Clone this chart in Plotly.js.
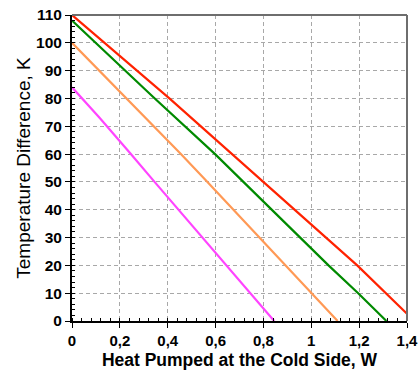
<!DOCTYPE html>
<html>
<head>
<meta charset="utf-8">
<script src="https://cdn.plot.ly/plotly-3.0.1.min.js"></script>
<style>html,body{margin:0;padding:0;background:#fff;}#chart{width:418px;height:371px;}</style>
</head>
<body>
<div id="chart"></div>
<script>
// Heat pumped (W) vs temperature difference (K)
const redX = [0, 0.407, 0.669, 1.192, 1.404, 1.43];
const redY = [110, 80, 60, 20, 2.3, 0];
const greenX = [0, 0.346, 0.598, 1.072, 1.196, 1.314];
const greenY = [108, 80, 60, 20, 10, 0];
const orangeX = [0, 0.229, 0.455, 0.566, 1.11];
const orangeY = [100, 80, 60, 50, 0];
const magentaX = [0, 0.116, 0.246, 0.345, 0.845];
const magentaY = [84, 73, 60, 50, 0];
const xTicks = [0, 0.2, 0.4, 0.6, 0.8, 1, 1.2, 1.4];
const xTickText = ['0', '0,2', '0,4', '0,6', '0,8', '1', '1,2', '1,4'];

const xTitle = 'Heat Pumped at the Cold Side, W';
const yTitle = 'Temperature Difference, K';

const font = 'Liberation Sans, Arial, sans-serif';
function tr(x, y, c) {
  return {x: x, y: y, type: 'scatter', mode: 'lines', line: {color: c, width: 2.2}, hoverinfo: 'skip'};
}
const data = [
  tr(magentaX, magentaY, '#ff44ff'),
  tr(orangeX, orangeY, '#ff9955'),
  tr(greenX, greenY, '#008a00'),
  tr(redX, redY, '#ff2200')
];
const layout = {
  width: 418, height: 371,
  margin: {l: 72, r: 11, t: 15, b: 50},
  paper_bgcolor: '#fff', plot_bgcolor: '#fff',
  showlegend: false,
  separators: ',.',
  font: {family: font, color: '#000'},
  xaxis: {
    range: [0, 1.4], tickmode: 'array', tickvals: xTicks, ticktext: xTickText,
    ticklabeloverflow: 'allow',
    showgrid: true, gridcolor: '#a8a8a8', griddash: '4px,3px', gridwidth: 1,
    zeroline: false,
    showline: true, linecolor: '#000', linewidth: 2,
    ticks: 'outside', ticklen: 5, tickcolor: '#000', tickwidth: 1,
    tickfont: {family: font, size: 15, color: '#000', weight: 'bold'},
    minor: {tickmode: 'linear', tick0: 0, dtick: 0.04, ticks: 'inside', ticklen: 3, tickcolor: '#000', showgrid: false},
    title: {text: xTitle, font: {family: font, size: 17.5, color: '#000', weight: 'bold'}, standoff: 6},
    automargin: false
  },
  yaxis: {
    range: [0, 110], dtick: 10, tick0: 0,
    ticklabeloverflow: 'allow',
    showgrid: true, gridcolor: '#a8a8a8', griddash: '4px,3px', gridwidth: 1,
    zeroline: false,
    showline: true, linecolor: '#000', linewidth: 2,
    ticks: 'outside', ticklen: 5, tickcolor: '#000', tickwidth: 1,
    tickfont: {family: font, size: 15.5, color: '#000', weight: 'bold'},
    minor: {dtick: 2, ticks: 'inside', ticklen: 3, tickcolor: '#000', showgrid: false},
    title: {text: yTitle, font: {family: font, size: 19, color: '#000'}, standoff: 0},
    automargin: false
  },
  shapes: [
    {type: 'line', xref: 'paper', yref: 'paper', x0: 0, x1: 1, y0: 1, y1: 1, line: {color: '#6e6e6e', width: 2}, layer: 'above'},
    {type: 'line', xref: 'paper', yref: 'paper', x0: 1, x1: 1, y0: 0, y1: 1, line: {color: '#6e6e6e', width: 2}, layer: 'above'}
  ]
};
Plotly.newPlot('chart', data, layout, {staticPlot: true, displayModeBar: false});
</script>
</body>
</html>
